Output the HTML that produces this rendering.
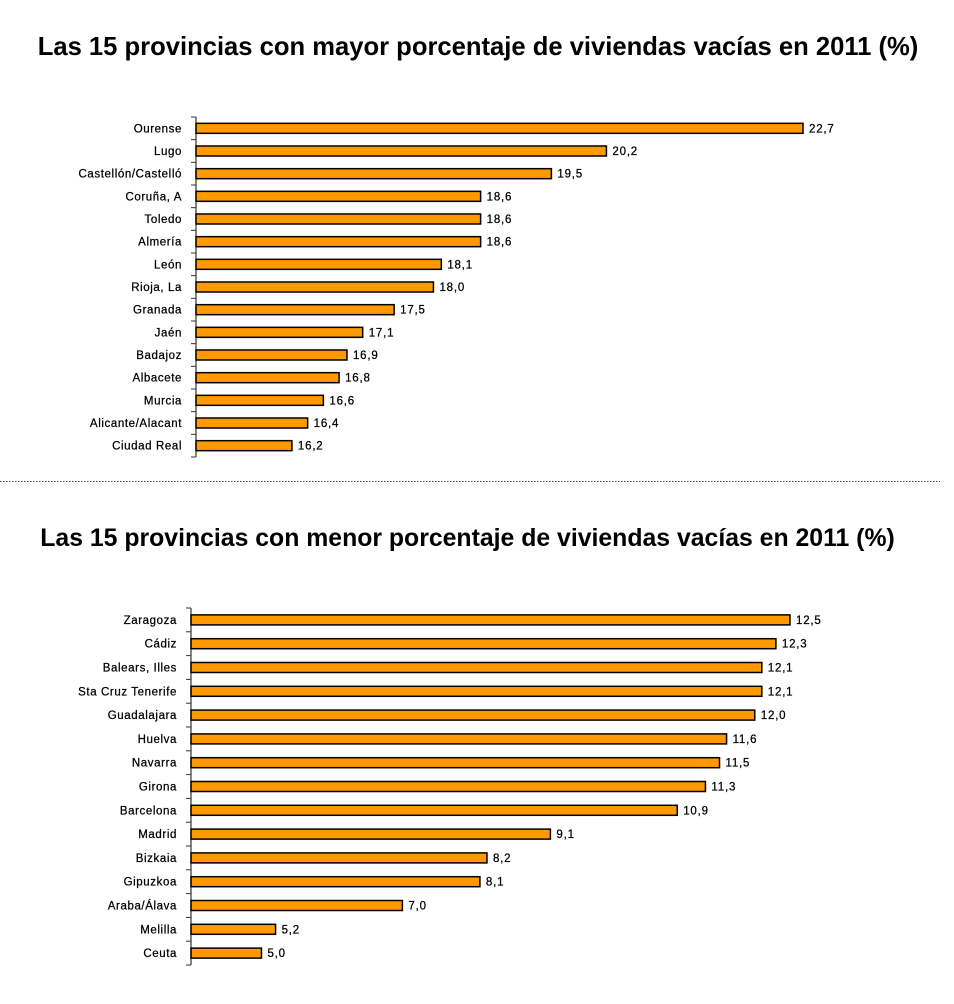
<!DOCTYPE html>
<html><head><meta charset="utf-8"><style>
body{margin:0;background:#fff;width:954px;height:999px;overflow:hidden;font-family:"Liberation Sans",Arial,sans-serif}
svg text{font-family:"Liberation Sans",Arial,sans-serif}
</style></head><body>
<svg id="s" width="954" height="999">
<text x="478" y="55" text-anchor="middle" font-size="25.6" font-weight="bold">Las 15 provincias con mayor porcentaje de viviendas vacías en 2011 (%)</text>
<line x1="0" y1="481.5" x2="940" y2="481.5" stroke="#444" stroke-dasharray="1.5,1.5"/>
<text x="467.5" y="546" text-anchor="middle" font-size="24.8" font-weight="bold">Las 15 provincias con menor porcentaje de viviendas vacías en 2011 (%)</text>
<g id="top"></g><g id="bot"></g>
</svg>
<script>
const topCats=["Ourense","Lugo","Castellón/Castelló","Coruña, A","Toledo","Almería","León","Rioja, La","Granada","Jaén","Badajoz","Albacete","Murcia","Alicante/Alacant","Ciudad Real"];
const topVals=[22.7,20.2,19.5,18.6,18.6,18.6,18.1,18.0,17.5,17.1,16.9,16.8,16.6,16.4,16.2];
const botCats=["Zaragoza","Cádiz","Balears, Illes","Sta Cruz Tenerife","Guadalajara","Huelva","Navarra","Girona","Barcelona","Madrid","Bizkaia","Gipuzkoa","Araba/Álava","Melilla","Ceuta"];
const botVals=[12.5,12.3,12.1,12.1,12.0,11.6,11.5,11.3,10.9,9.1,8.2,8.1,7.0,5.2,5.0];
const NS="http://www.w3.org/2000/svg";
function draw(g,cats,vals,ax,y0,y1,vmin,vmax,xmax,prefix){
  const band=(y1-y0)/cats.length;
  const x=v=>ax+(v-vmin)/(vmax-vmin)*(xmax-ax);
  const axis=document.createElementNS(NS,'line');
  axis.setAttribute('x1',ax);axis.setAttribute('x2',ax);axis.setAttribute('y1',y0);axis.setAttribute('y2',y1);
  axis.setAttribute('stroke','#333');axis.setAttribute('stroke-width','1.2');
  
  
  g.appendChild(axis);
  for(let i=0;i<=cats.length;i++){
    const t=document.createElementNS(NS,'line');
    const yy=y0+i*band;
    t.setAttribute('x1',ax-5);t.setAttribute('x2',ax);t.setAttribute('y1',yy);t.setAttribute('y2',yy);
    t.setAttribute('stroke','#333');
    
    
    g.appendChild(t);
  }
  cats.forEach((c,i)=>{
    const cy=y0+(i+0.5)*band;
    const r=document.createElementNS(NS,'rect');
    r.setAttribute('x',ax);r.setAttribute('y',cy-5);r.setAttribute('height',10);
    r.setAttribute('width',x(vals[i])-ax);
    r.setAttribute('fill','#FF9900');r.setAttribute('stroke','#000');r.setAttribute('stroke-width','1.5');
    
    
    g.appendChild(r);
    const l=document.createElementNS(NS,'text');
    l.setAttribute('x',ax-14);l.setAttribute('y',cy+4);l.setAttribute('text-anchor','end');
    l.setAttribute('font-size','11.5');l.setAttribute('letter-spacing','0.6');l.setAttribute('fill','#000');
    l.setAttribute('stroke','#000');l.setAttribute('stroke-width','0.25');
    l.textContent=c;
    
    
    g.appendChild(l);
    const v=document.createElementNS(NS,'text');
    v.setAttribute('x',x(vals[i])+6);v.setAttribute('y',cy+4);
    v.setAttribute('font-size','11.5');v.setAttribute('letter-spacing','0.8');v.setAttribute('fill','#000');
    v.setAttribute('stroke','#000');v.setAttribute('stroke-width','0.25');
    v.textContent=vals[i].toFixed(1).replace('.',',');
    
    
    g.appendChild(v);
  });
}
draw(document.getElementById('top'),topCats,topVals,196,117,457,14.98,22.7,803,'top');
draw(document.getElementById('bot'),botCats,botVals,191,608,965,4,12.5,790,'bottom');
</script>
</body></html>
